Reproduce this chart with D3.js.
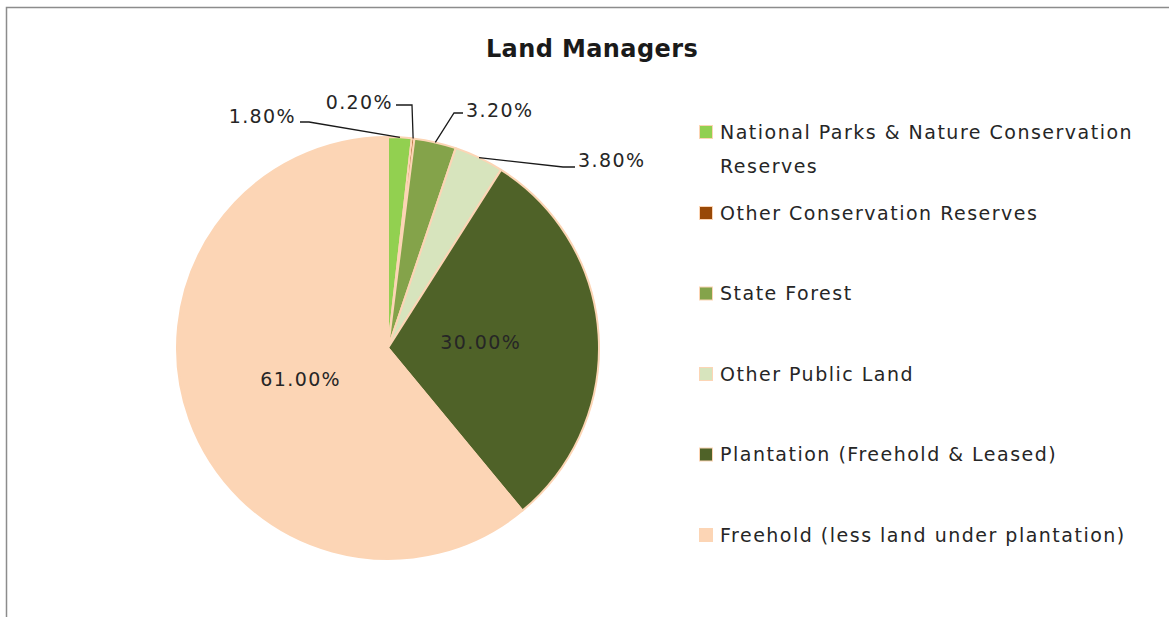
<!DOCTYPE html>
<html>
<head>
<meta charset="utf-8">
<script src="https://cdn.jsdelivr.net/npm/d3@7"></script>
<style>
  body { margin: 0; background: #fff; }
  text { font-family: "DejaVu Sans", sans-serif; fill: #262626; }
</style>
</head>
<body>
<div id="wrapper"></div>
<script>
// chart values
const title = "Land Managers";
const categories = [
  "National Parks & Nature Conservation Reserves",
  "Other Conservation Reserves",
  "State Forest",
  "Other Public Land",
  "Plantation (Freehold & Leased)",
  "Freehold (less land under plantation)"
];
const shares = [1.8, 0.2, 3.2, 3.8, 30, 61];
const colors = ["#92d050", "#984807", "#84a34a", "#d7e4bd", "#4f6228", "#fcd5b5"];

// outside labels: text pos relative to pie centre, and where the leader bends
const outsideLabels = [
  { i: 0, x: -92, y: -232, anchor: "end",   start: [-88, -226], knee: [-79, -226] },
  { i: 1, x: 5,   y: -246, anchor: "end",   start: [8, -243],   knee: [24, -243] },
  { i: 2, x: 78,  y: -238, anchor: "start", start: [75, -235],  knee: [66, -235] },
  { i: 3, x: 190, y: -188, anchor: "start", start: [187, -181], knee: [175, -181] }
];

function drawPie() {
  const dimensions = { width: 1169, height: 617 };
  const cx = 388, cy = 348, radius = 211;

  const svg = d3.select("#wrapper").append("svg")
    .attr("width", dimensions.width)
    .attr("height", dimensions.height);

  // chart frame (only top and left edges are visible in the crop)
  svg.append("path")
    .attr("d", `M6.5,${dimensions.height} V7.5 H${dimensions.width}`)
    .attr("fill", "none")
    .attr("stroke", "#8c8c8c")
    .attr("stroke-width", 1.5);

  svg.append("text")
    .attr("x", 592)
    .attr("y", 57)
    .attr("text-anchor", "middle")
    .style("font-size", "24px")
    .style("font-weight", "bold")
    .style("letter-spacing", "0.4px")
    .style("fill", "#1a1a1a")
    .text(title);

  const pie = d3.pie().sort(null).value(d => d);
  const arcs = pie(shares);

  const arc = d3.arc().innerRadius(0).outerRadius(radius);
  const edgeArc = d3.arc().innerRadius(radius).outerRadius(radius);
  const innerArc = d3.arc().innerRadius(0).outerRadius(radius * 0.88);

  const g = svg.append("g").attr("transform", `translate(${cx},${cy})`);

  g.selectAll("path.slice")
    .data(arcs)
    .join("path")
    .attr("class", "slice")
    .attr("d", arc)
    .attr("fill", (d, i) => colors[i])
    .attr("stroke", "#fcd5b5")
    .attr("stroke-width", 2)
    .attr("stroke-linejoin", "round");

  const fmt = v => v.toFixed(2) + "%";

  // big slices get labels inside
  g.selectAll("text.inside")
    .data(arcs.filter(d => d.value >= 10))
    .join("text")
    .attr("class", "inside")
    .attr("transform", d => `translate(${innerArc.centroid(d)})`)
    .attr("text-anchor", "middle")
    .attr("dy", "0.35em")
    .style("font-size", "19px")
    .style("letter-spacing", "1.4px")
    .text(d => fmt(d.value));

  // leader lines + labels for small slices
  const line = d3.line();
  g.selectAll("path.leader")
    .data(outsideLabels)
    .join("path")
    .attr("class", "leader")
    .attr("d", l => line([l.start, l.knee, edgeArc.centroid(arcs[l.i])]))
    .attr("fill", "none")
    .attr("stroke", "#1a1a1a")
    .attr("stroke-width", 1.3);

  g.selectAll("text.outside")
    .data(outsideLabels)
    .join("text")
    .attr("class", "outside")
    .attr("x", l => l.x)
    .attr("y", l => l.y)
    .attr("dy", "0.35em")
    .attr("text-anchor", l => l.anchor)
    .style("font-size", "19px")
    .style("letter-spacing", "1.4px")
    .text(l => fmt(shares[l.i]));

  // legend
  const legendY = d3.scaleLinear().domain([1, 5]).range([213, 535]);
  const rowY = i => i === 0 ? 132 : legendY(i);
  const legend = svg.append("g");
  const rows = legend.selectAll("g")
    .data(categories)
    .join("g")
    .attr("transform", (d, i) => `translate(699,${rowY(i)})`);

  rows.append("rect")
    .attr("x", 0.5)
    .attr("y", -6.5)
    .attr("width", 13)
    .attr("height", 13)
    .attr("fill", (d, i) => colors[i])
    .attr("stroke", "#fcd5b5")
    .attr("stroke-width", 1);

  rows.append("text")
    .attr("x", 21)
    .style("font-size", "19px")
    .style("letter-spacing", "1.5px")
    .each(function(d) {
      // wrap long entries at the legend width
      const t = d3.select(this);
      const words = d.split(" ");
      let lineWords = [];
      let tspan = t.append("tspan").attr("x", 21).attr("dy", "0.35em");
      words.forEach(w => {
        lineWords.push(w);
        tspan.text(lineWords.join(" "));
        if (tspan.node().getComputedTextLength() > 440 && lineWords.length > 1) {
          lineWords.pop();
          tspan.text(lineWords.join(" "));
          lineWords = [w];
          tspan = t.append("tspan").attr("x", 21).attr("dy", "34px").text(w);
        }
      });
    });
}

drawPie();
</script>
</body>
</html>
